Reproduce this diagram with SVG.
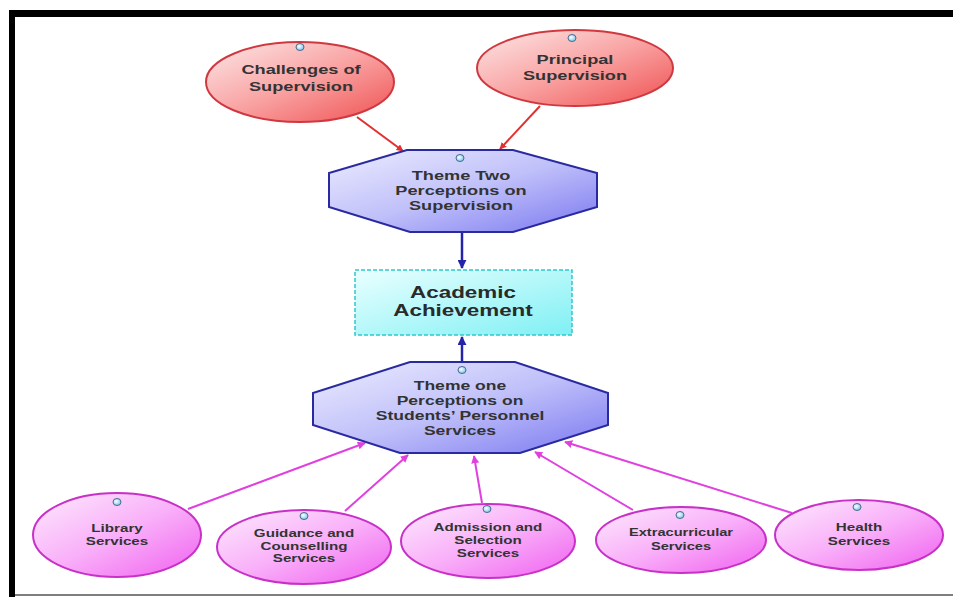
<svg xmlns="http://www.w3.org/2000/svg" width="953" height="597" viewBox="0 0 953 597">
<defs>
<linearGradient id="gRed" x1="0" y1="0" x2="1" y2="1">
<stop offset="0" stop-color="#fde8e8"/><stop offset="0.5" stop-color="#f9a3a3"/><stop offset="1" stop-color="#f05050"/>
</linearGradient>
<linearGradient id="gBlue" x1="0" y1="0" x2="1" y2="1">
<stop offset="0" stop-color="#ececff"/><stop offset="0.5" stop-color="#c0c0fa"/><stop offset="1" stop-color="#7a78f0"/>
</linearGradient>
<linearGradient id="gCyan" x1="0" y1="0" x2="1" y2="1">
<stop offset="0" stop-color="#eaffff"/><stop offset="1" stop-color="#7ff0f4"/>
</linearGradient>
<linearGradient id="gMag" x1="0" y1="0" x2="1" y2="1">
<stop offset="0" stop-color="#fdeafd"/><stop offset="0.5" stop-color="#f9b0f9"/><stop offset="1" stop-color="#f060f0"/>
</linearGradient>
<radialGradient id="gDot" cx="0.4" cy="0.4" r="0.6">
<stop offset="0" stop-color="#ffffff"/><stop offset="1" stop-color="#7ec8ec"/>
</radialGradient>
<marker id="aRed" viewBox="0 0 10 10" refX="9" refY="5" markerWidth="7" markerHeight="7" orient="auto" markerUnits="userSpaceOnUse">
<path d="M0,0 L10,5 L0,10 z" fill="#e03030"/>
</marker>
<marker id="aBlue" viewBox="0 0 10 10" refX="9" refY="5" markerWidth="9" markerHeight="9" orient="auto" markerUnits="userSpaceOnUse">
<path d="M0,0 L10,5 L0,10 z" fill="#2424a8"/>
</marker>
<marker id="aMag" viewBox="0 0 10 10" refX="9" refY="5" markerWidth="8" markerHeight="8" orient="auto" markerUnits="userSpaceOnUse">
<path d="M0,0 L10,5 L0,10 z" fill="#e040e0"/>
</marker>
</defs>
<style>
.t{font-family:"Liberation Sans",Arial,sans-serif;font-weight:bold;font-size:13px;fill:#333;text-anchor:middle}
.s{font-size:11px}
.big{font-size:17px;fill:#2a2a2a}
.red{fill:url(#gRed);stroke:#d03840;stroke-width:2}
.blue{fill:url(#gBlue);stroke:#2a2aa0;stroke-width:2}
.cyan{fill:url(#gCyan);stroke:#30c8cc;stroke-width:1.5;stroke-dasharray:4 2}
.mag{fill:url(#gMag);stroke:#c830c8;stroke-width:2}
.dot{fill:url(#gDot);stroke:#4a6a90;stroke-width:1}
.cr{stroke:#e03030;stroke-width:2;fill:none}
.cb{stroke:#2424a8;stroke-width:2.5;fill:none}
.cm{stroke:#e040e0;stroke-width:2;fill:none}
</style>
<rect x="0" y="0" width="953" height="597" fill="#ffffff"/>
<rect x="9" y="10" width="944" height="7" fill="#000"/>
<rect x="9" y="10" width="6" height="587" fill="#000"/>
<line x1="15" y1="595" x2="953" y2="595" stroke="#555" stroke-width="1.5"/>

<g id="connectors">
<line class="cr" x1="357" y1="117" x2="403" y2="151" marker-end="url(#aRed)"/>
<line class="cr" x1="540" y1="106" x2="500" y2="149" marker-end="url(#aRed)"/>
<line class="cb" x1="462" y1="232" x2="462" y2="268" marker-end="url(#aBlue)"/>
<line class="cb" x1="462" y1="364" x2="462" y2="337" marker-end="url(#aBlue)"/>
<line class="cm" x1="188" y1="509" x2="365" y2="443" marker-end="url(#aMag)"/>
<line class="cm" x1="345" y1="511" x2="408" y2="455" marker-end="url(#aMag)"/>
<line class="cm" x1="482" y1="503" x2="474" y2="456" marker-end="url(#aMag)"/>
<line class="cm" x1="633" y1="510" x2="535" y2="452" marker-end="url(#aMag)"/>
<line class="cm" x1="792" y1="513" x2="565" y2="442" marker-end="url(#aMag)"/>
</g>

<g id="challenges">
<ellipse class="red" cx="300" cy="82" rx="94" ry="40"/>
<ellipse class="dot" cx="300" cy="47" rx="4" ry="3.5"/>
<g transform="translate(301 0) scale(1.4 1)">
<text class="t" x="0" y="74">Challenges of</text>
<text class="t" x="0" y="91">Supervision</text>
</g>
</g>

<g id="principal">
<ellipse class="red" cx="575" cy="68" rx="98" ry="38"/>
<ellipse class="dot" cx="572" cy="38" rx="4" ry="3.5"/>
<g transform="translate(575 0) scale(1.4 1)">
<text class="t" x="0" y="64">Principal</text>
<text class="t" x="0" y="80">Supervision</text>
</g>
</g>

<g id="themeTwo">
<polygon class="blue" points="407,150 513,150 597,173 597,207 513,232 410,232 329,207 329,173"/>
<ellipse class="dot" cx="460" cy="158" rx="4" ry="3.5"/>
<g transform="translate(461 0) scale(1.4 1)">
<text class="t" x="0" y="180">Theme Two</text>
<text class="t" x="0" y="195">Perceptions on</text>
<text class="t" x="0" y="210">Supervision</text>
</g>
</g>

<g id="academic">
<rect class="cyan" x="355" y="270" width="217" height="65"/>
<g transform="translate(463 0) scale(1.32 1)">
<text class="t big" x="0" y="298">Academic</text>
<text class="t big" x="0" y="316">Achievement</text>
</g>
</g>

<g id="themeOne">
<polygon class="blue" points="410,362 515,362 608,393 608,425 520,453 400,453 313,425 313,393"/>
<ellipse class="dot" cx="462" cy="370" rx="4" ry="3.5"/>
<g transform="translate(460 0) scale(1.35 1)">
<text class="t" x="0" y="390">Theme one</text>
<text class="t" x="0" y="405">Perceptions on</text>
<text class="t" x="0" y="420">Students’ Personnel</text>
<text class="t" x="0" y="435">Services</text>
</g>
</g>

<g id="library">
<ellipse class="mag" cx="117" cy="535" rx="84" ry="42"/>
<ellipse class="dot" cx="117" cy="502" rx="4" ry="3.5"/>
<g transform="translate(117 0) scale(1.38 1)">
<text class="t s" x="0" y="532">Library</text>
<text class="t s" x="0" y="545">Services</text>
</g>
</g>

<g id="guidance">
<ellipse class="mag" cx="304" cy="547" rx="87" ry="37"/>
<ellipse class="dot" cx="304" cy="516" rx="4" ry="3.5"/>
<g transform="translate(304 0) scale(1.38 1)">
<text class="t s" x="0" y="537">Guidance and</text>
<text class="t s" x="0" y="550">Counselling</text>
<text class="t s" x="0" y="562">Services</text>
</g>
</g>

<g id="admission">
<ellipse class="mag" cx="488" cy="541" rx="87" ry="37"/>
<ellipse class="dot" cx="487" cy="509" rx="4" ry="3.5"/>
<g transform="translate(488 0) scale(1.38 1)">
<text class="t s" x="0" y="531">Admission and</text>
<text class="t s" x="0" y="544">Selection</text>
<text class="t s" x="0" y="557">Services</text>
</g>
</g>

<g id="extracurricular">
<ellipse class="mag" cx="681" cy="540" rx="85" ry="33"/>
<ellipse class="dot" cx="680" cy="515" rx="4" ry="3.5"/>
<g transform="translate(681 0) scale(1.33 1)">
<text class="t s" x="0" y="536">Extracurricular</text>
<text class="t s" x="0" y="550">Services</text>
</g>
</g>

<g id="health">
<ellipse class="mag" cx="859" cy="535" rx="84" ry="35"/>
<ellipse class="dot" cx="857" cy="507" rx="4" ry="3.5"/>
<g transform="translate(859 0) scale(1.38 1)">
<text class="t s" x="0" y="531">Health</text>
<text class="t s" x="0" y="545">Services</text>
</g>
</g>
</svg>
